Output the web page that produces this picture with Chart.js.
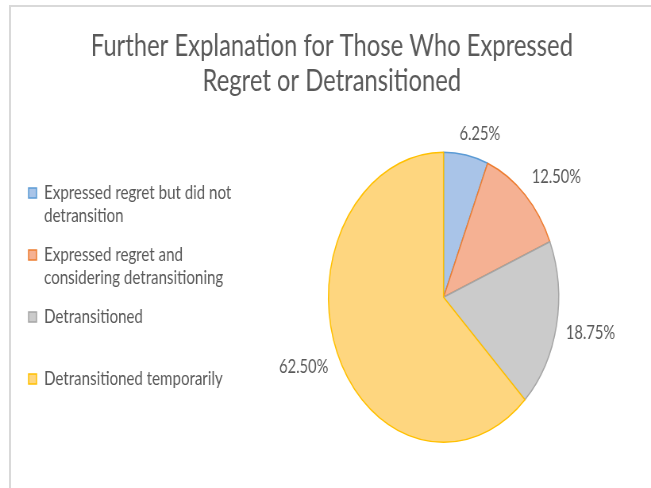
<!DOCTYPE html>
<html>
<head>
<meta charset="utf-8">
<script src="https://cdn.jsdelivr.net/npm/chart.js@4.4.1/dist/chart.umd.min.js"></script>
<style>
  html, body { margin: 0; padding: 0; background: #fff; }
  #wrap { position: relative; width: 651px; height: 488px; overflow: hidden; }
  #frame { position: absolute; left: 9px; top: 5px; right: 0; bottom: 0; border-left: 2px solid #d9d9d9; border-top: 2px solid #d9d9d9; }
  #chart { position: absolute; left: 0; top: 0; }
</style>
</head>
<body>
<div id="wrap">
  <div id="frame"></div>
  <!-- drawn 820 wide and squeezed to 651, so the pie comes out as an ellipse like the source -->
  <canvas id="chart" width="820" height="488" style="width:651px;height:488px"></canvas>
</div>
<script>
const titleLines = ['Further Explanation for Those Who Expressed', 'Regret or Detransitioned'];
const categories = [
  ['Expressed regret but did not', 'detransition'],
  ['Expressed regret and', 'considering detransitioning'],
  ['Detransitioned'],
  ['Detransitioned temporarily'],
];
const shares = [6.25, 12.5, 18.75, 62.5]; // percent
const fillColors = ['#a9c4e8', '#f5b193', '#cbcbcb', '#fed67f'];
const lineColors = ['#5b9bd5', '#ed7d31', '#a5a5a5', '#ffc000'];

const textColor = '#595959';
const fontFamily = 'Lato, "DejaVu Sans", sans-serif';

// percentage labels outside each slice
const pctLabels = {
  id: 'pctLabels',
  afterDatasetsDraw(chart) {
    const ctx = chart.ctx;
    const meta = chart.getDatasetMeta(0);
    const data = chart.data.datasets[0].data;
    const total = data.reduce((a, b) => a + b, 0);
    const size = 18.5;
    const clamp = (v) => Math.max(-1, Math.min(1, v));
    ctx.save();
    ctx.font = `${size}px ${fontFamily}`;
    ctx.fillStyle = textColor;
    ctx.textAlign = 'center';
    ctx.textBaseline = 'middle';
    meta.data.forEach((arc, i) => {
      const p = arc.getProps(['x', 'y', 'startAngle', 'endAngle', 'outerRadius'], true);
      const mid = (p.startAngle + p.endAngle) / 2;
      const cos = Math.cos(mid);
      const sin = Math.sin(mid);
      const r = p.outerRadius + 12;
      const txt = (data[i] / total * 100).toFixed(2) + '%';
      const w = ctx.measureText(txt).width;
      const x = p.x + cos * r + (w / 2) * clamp(3 * cos);
      const y = p.y + sin * r + (size / 2) * clamp(3 * sin);
      ctx.fillText(txt, x, y);
    });
    ctx.restore();
  },
};

new Chart(document.getElementById('chart'), {
  type: 'pie',
  data: {
    labels: categories,
    datasets: [{
      data: shares,
      backgroundColor: fillColors,
      borderColor: lineColors,
      borderWidth: 1.5,
      radius: 145,
    }],
  },
  options: {
    responsive: false,
    animation: false,
    events: [],
    layout: { padding: { left: 20, right: 4, top: 0, bottom: 61 } },
    plugins: {
      tooltip: { enabled: false },
      title: {
        display: true,
        text: titleLines,
        color: textColor,
        font: { family: fontFamily, size: 30, weight: 'normal', lineHeight: 1.167 },
        padding: { top: 28.5, bottom: 69 },
      },
      legend: {
        position: 'left',
        align: 'start',
        fullSize: false,
        labels: {
          color: textColor,
          font: { family: fontFamily, size: 19, lineHeight: 1.21 },
          boxWidth: 10,
          boxHeight: 10,
          padding: 16,
          generateLabels(chart) {
            const items = Chart.controllers.pie.overrides.plugins.legend.labels.generateLabels(chart);
            const last = items.length - 1;
            // every entry but the last keeps a two-line slot, like the source
            items.forEach((it, i) => {
              const lines = [].concat(it.text);
              if (i < last && lines.length < 2) lines.push('');
              it.text = i < last ? lines : lines[0];
            });
            return items;
          },
        },
      },
    },
  },
  plugins: [pctLabels],
});
</script>
</body>
</html>
